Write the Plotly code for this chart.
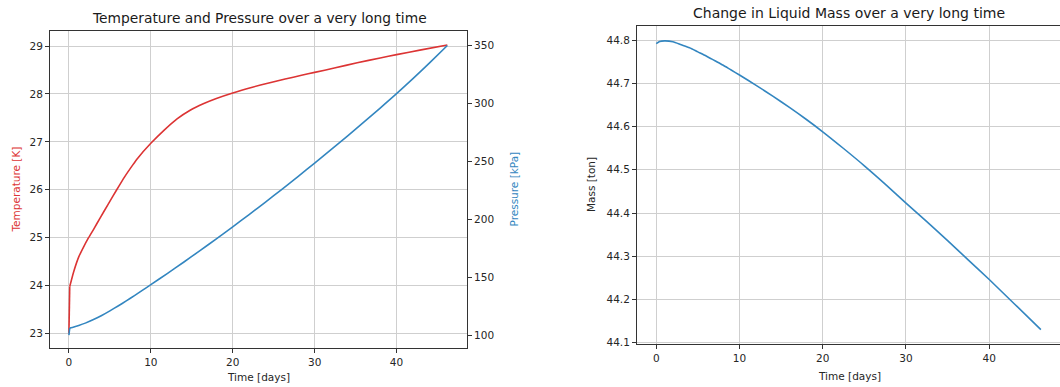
import plotly.graph_objects as go

# ---- data ----
temp_t = [0, 0.1, 0.6, 1.2, 1.8, 2.4, 3.1, 3.8, 4.8, 5.8, 6.8, 7.8, 8.4, 10.0, 11.6, 13.2, 14.8, 16.4, 18.0, 20.0,
          22.4, 24.4, 26.4, 28.4, 30.0, 32.4, 35.2, 38.0, 40.0, 43.0, 46.2]
temp_K = [23.0, 23.98, 24.3, 24.6, 24.81, 25.0, 25.2, 25.41, 25.7, 25.99, 26.27, 26.52, 26.66, 26.97, 27.24, 27.48,
          27.66, 27.795, 27.905, 28.02, 28.14, 28.23, 28.31, 28.39, 28.45, 28.54, 28.65, 28.75, 28.82, 28.92, 29.02]

pres_t = [0, 0.1, 0.6, 1.2, 2, 3, 4, 5, 6, 7, 8, 9, 10, 12, 14, 16, 18, 20, 22, 24, 26, 28, 30, 32, 34, 36, 38,
          40, 42, 44, 46.2]
pres_kPa = [100.0, 106.2, 107.1, 108.4, 110.4, 113.5, 117.0, 121.0, 125.2, 129.6, 134.2, 138.9, 143.6, 153.2,
            163.0, 173.0, 183.2, 193.6, 204.2, 215.0, 226.0, 237.2, 248.6, 260.2, 272.0, 284.0, 296.2, 308.6,
            321.6, 335.0, 350.2]

mass_t = [0, 0.4, 1, 2, 3, 4, 5, 6, 7, 8, 9, 10, 12, 14, 16, 18, 20, 22.5, 25, 27.5, 30, 32.5, 35, 37.5, 40, 43, 46.2]
mass_ton = [44.792, 44.797, 44.7985, 44.7965, 44.7895, 44.7825, 44.773, 44.7635, 44.753, 44.7425, 44.731, 44.7195,
            44.6955, 44.6705, 44.6445, 44.617, 44.588, 44.5493, 44.5093, 44.467, 44.423, 44.380, 44.336, 44.291,
            44.246, 44.19, 44.13]

x_ticks = [0, 10, 20, 30, 40]
temp_ticks = [23, 24, 25, 26, 27, 28, 29]
pres_ticks = [100, 150, 200, 250, 300, 350]
mass_ticks = [44.1, 44.2, 44.3, 44.4, 44.5, 44.6, 44.7, 44.8]

RED = "#dc3434"
BLUE = "#3386c0"
FONT = "DejaVu Sans"
W, H = 1060, 387

fig = go.Figure()
# initial jump at t=0 (straight), then the smooth curve
fig.add_trace(go.Scatter(x=temp_t[:2], y=temp_K[:2], mode="lines", line=dict(color=RED, width=1.6),
                         xaxis="x", yaxis="y", showlegend=False))
fig.add_trace(go.Scatter(x=temp_t[1:], y=temp_K[1:], mode="lines",
                         line=dict(color=RED, width=1.6, shape="spline", smoothing=0.6),
                         xaxis="x", yaxis="y", showlegend=False))
fig.add_trace(go.Scatter(x=pres_t[:2], y=pres_kPa[:2], mode="lines", line=dict(color=BLUE, width=1.6),
                         xaxis="x", yaxis="y2", showlegend=False))
fig.add_trace(go.Scatter(x=pres_t[1:], y=pres_kPa[1:], mode="lines",
                         line=dict(color=BLUE, width=1.6, shape="spline", smoothing=0.6),
                         xaxis="x", yaxis="y2", showlegend=False))
fig.add_trace(go.Scatter(x=mass_t, y=mass_ton, mode="lines",
                         line=dict(color=BLUE, width=1.6, shape="spline", smoothing=0.6),
                         xaxis="x2", yaxis="y3", showlegend=False))

axis_common = dict(
    showline=True, linecolor="#333333", linewidth=1,
    ticks="outside", ticklen=4, tickcolor="#333333", tickwidth=1,
    gridcolor="#cfcfcf", gridwidth=1, zeroline=False,
    tickfont=dict(family=FONT, size=10.5, color="#262626"),
)
axis_nogrid = {k: v for k, v in axis_common.items() if k not in ("gridcolor", "gridwidth")}

ld = [50 / W, 467 / W]
lyd = [(H - 352) / H, (H - 31) / H]
rd = [637 / W, 1.0]
ryd = [(H - 347.7) / H, (H - 26) / H]

fig.update_layout(
    width=W, height=H,
    margin=dict(l=0, r=0, t=0, b=0),
    paper_bgcolor="white", plot_bgcolor="white",
    font=dict(family=FONT, color="#262626"),
    xaxis=dict(domain=ld, anchor="y", range=[-2.31, 48.6], tickvals=x_ticks,
               mirror=True, showgrid=True, **axis_common),
    yaxis=dict(domain=lyd, anchor="x", range=[22.69, 29.32], tickvals=temp_ticks,
               mirror=True, showgrid=True, **axis_common),
    yaxis2=dict(overlaying="y", anchor="x", side="right", range=[88.6, 363.0],
                tickvals=pres_ticks, showgrid=False, **axis_nogrid),
    xaxis2=dict(domain=rd, anchor="y3", range=[-2.31, 48.5], tickvals=x_ticks,
                mirror=True, showgrid=True, **axis_common),
    yaxis3=dict(domain=ryd, anchor="x2", range=[44.0965, 44.8335], tickvals=mass_ticks,
                tickformat=".1f", mirror=False, showgrid=True, **axis_common),
)

ann = [
    dict(text="Temperature and Pressure over a very long time", x=259 / W, y=1 - 18 / H,
         font=dict(size=13.8, color="#1a1a1a")),
    dict(text="Change in Liquid Mass over a very long time", x=849 / W, y=1 - 13 / H,
         font=dict(size=14, color="#1a1a1a")),
    dict(text="Time [days]", x=258.5 / W, y=1 - 381 / H, font=dict(size=10.5, color="#262626")),
    dict(text="Time [days]", x=849 / W, y=1 - 380 / H, font=dict(size=10.5, color="#262626")),
    dict(text="Temperature [K]", x=16 / W, y=1 - 191.5 / H, textangle=-90,
         font=dict(size=10.5, color=RED)),
    dict(text="Pressure [kPa]", x=514 / W, y=1 - 191.5 / H, textangle=-90,
         font=dict(size=10.5, color=BLUE)),
    dict(text="Mass [ton]", x=591 / W, y=1 - 187 / H, textangle=-90,
         font=dict(size=10.5, color="#262626")),
]
for a in ann:
    a.update(xref="paper", yref="paper", xanchor="center", yanchor="middle", showarrow=False)
    a["font"]["family"] = FONT
fig.update_layout(annotations=ann)

fig.write_html("out.html")
